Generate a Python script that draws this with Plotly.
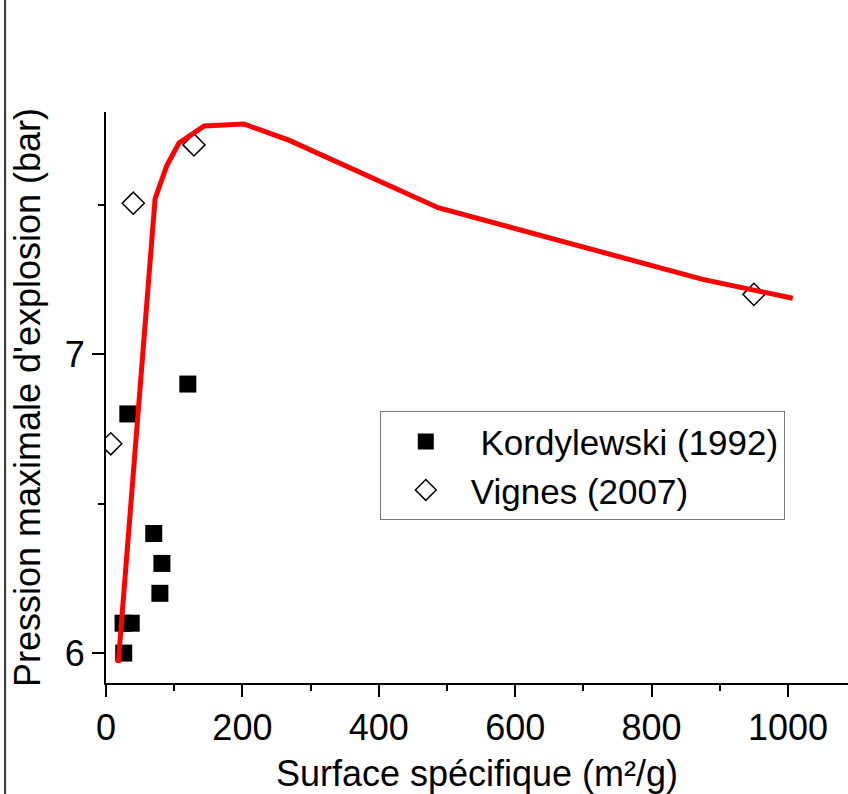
import plotly.graph_objects as go

# Kordylewski (1992) data
kord_x = [32, 120, 70, 82, 79, 25, 37, 26]
kord_y = [6.80, 6.90, 6.40, 6.30, 6.20, 6.10, 6.10, 6.00]

# Vignes (2007) data
vig_x = [7, 40, 129, 950]
vig_y = [6.70, 7.505, 7.70, 7.20]

# Model curve
curve_x = [18, 72, 89, 107, 144, 202, 268, 421, 487, 875, 1007]
curve_y = [5.967, 7.52, 7.63, 7.706, 7.763, 7.77, 7.716, 7.555, 7.49, 7.25, 7.187]

FONT = "Arial, Liberation Sans, sans-serif"

fig = go.Figure()
fig.add_trace(go.Scatter(
    x=kord_x, y=kord_y, mode="markers", name="\u00a0Kordylewski (1992)",
    marker=dict(symbol="square", size=17, color="black", line=dict(width=0)),
))
fig.add_trace(go.Scatter(
    x=vig_x, y=vig_y, mode="markers", name="Vignes (2007)",
    marker=dict(symbol="diamond-open", size=17, color="black", line=dict(width=1.5, color="black")),
))
fig.add_trace(go.Scatter(
    x=curve_x, y=curve_y, mode="lines", showlegend=False,
    line=dict(color="#ff0000", width=5),
))

axis_common = dict(
    showline=True, linecolor="black", linewidth=2,
    ticks="outside", ticklen=12, tickwidth=2, tickcolor="black",
    showgrid=False, zeroline=False,
    tickfont=dict(family=FONT, size=36, color="black"),
)

fig.update_xaxes(
    range=[0, 1088], tickvals=[0, 200, 400, 600, 800, 1000],
    minor=dict(tickvals=[100, 300, 500, 700, 900], ticks="outside", ticklen=6, tickwidth=2, tickcolor="black"),
    title=dict(text="Surface spécifique (m²/g)", font=dict(family=FONT, size=36, color="black"), standoff=14),
    **axis_common,
)
fig.update_yaxes(
    range=[5.9, 7.81], tickvals=[6, 7],
    minor=dict(tickvals=[6.5, 7.5], ticks="outside", ticklen=6, tickwidth=2, tickcolor="black"),
    title=dict(text="Pression maximale d'explosion (bar)", font=dict(family=FONT, size=36, color="black"), standoff=13),
    **axis_common,
)

fig.add_shape(type="line", xref="paper", yref="paper",
              x0=-0.136, x1=-0.136, y0=-0.3, y1=1.3,
              line=dict(color="#333333", width=2))

fig.update_layout(
    width=848, height=794,
    margin=dict(l=106, r=0, t=112, b=111),
    paper_bgcolor="white", plot_bgcolor="white",
    font=dict(family=FONT, color="black"),
    legend=dict(
        x=0.369, y=0.476, xanchor="left", yanchor="top",
        bgcolor="white", bordercolor="#777777", borderwidth=1,
        font=dict(family=FONT, size=35, color="black"),
        itemwidth=80, tracegroupgap=0,
    ),
)

fig.write_html("out.html")
